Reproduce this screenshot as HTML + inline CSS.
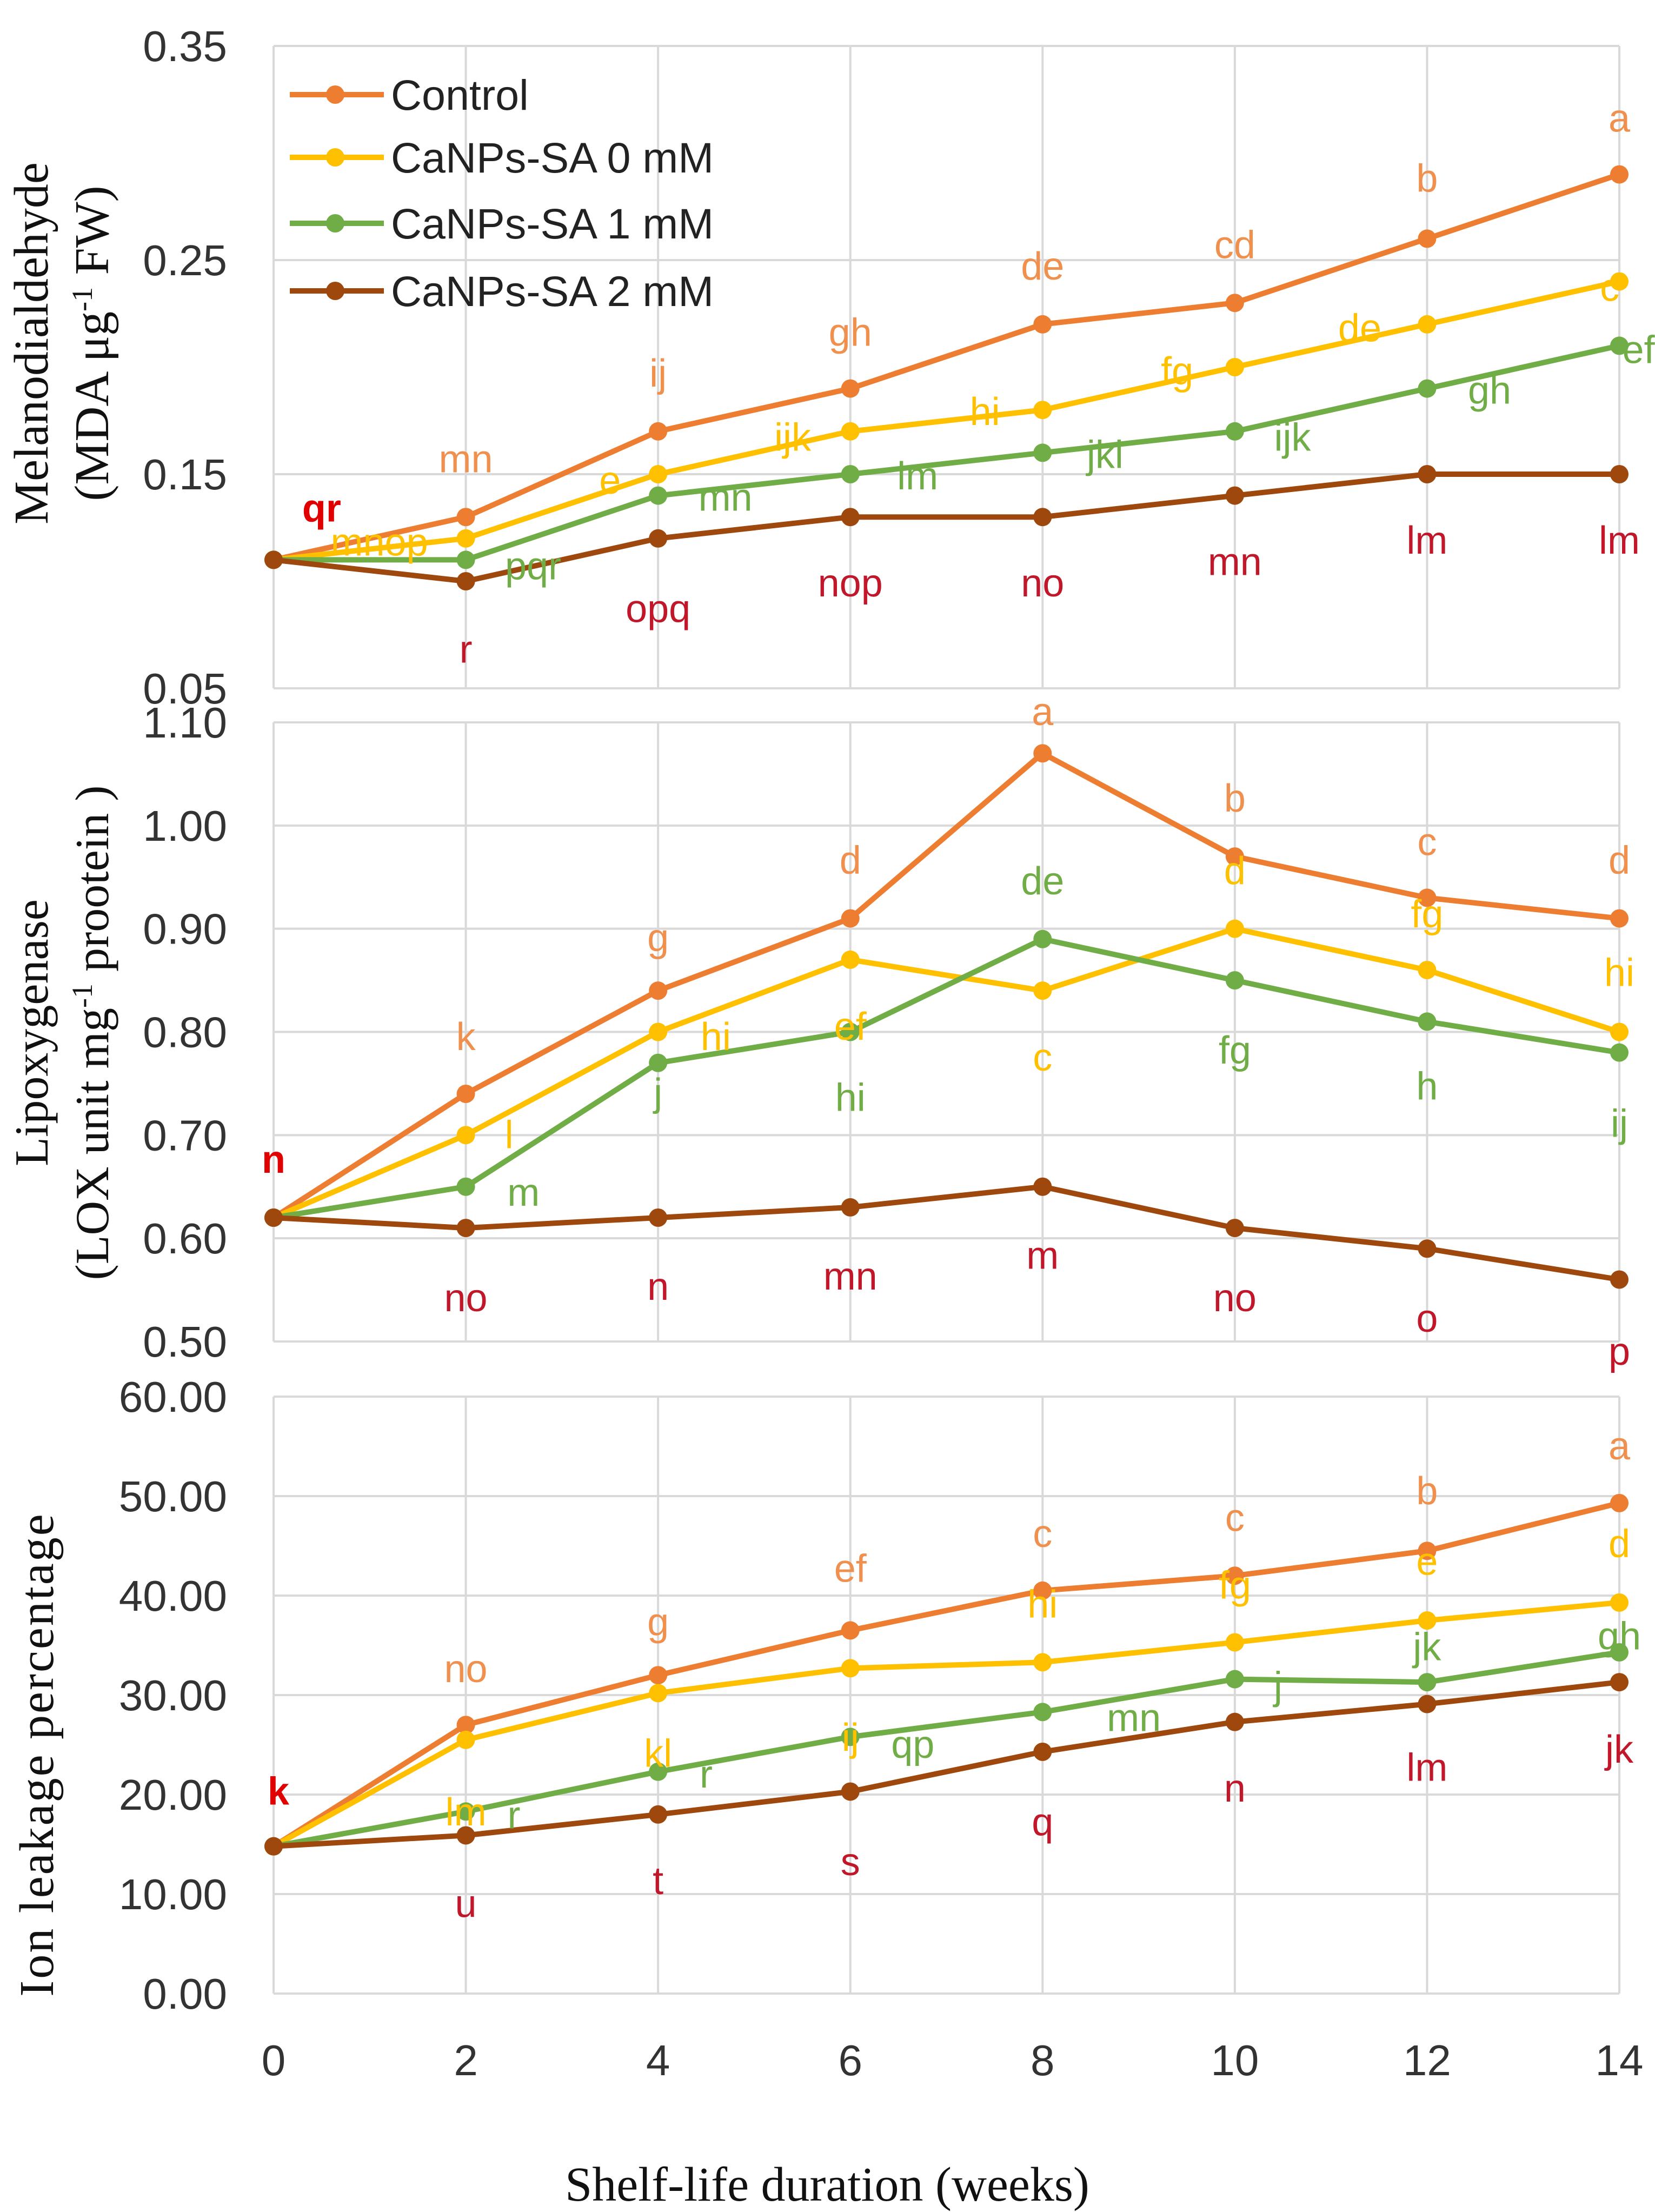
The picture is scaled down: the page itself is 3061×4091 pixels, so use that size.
<!DOCTYPE html>
<html><head><meta charset="utf-8"><style>
html,body{margin:0;padding:0;background:#fff;}
svg{display:block;}
</style></head><body>
<svg id="chart" xmlns="http://www.w3.org/2000/svg" width="3061" height="4091" viewBox="0 0 3061 4091">
<rect x="0" y="0" width="3061" height="4091" fill="#fff"/>
</svg>
<script>
const weeks = [0,2,4,6,8,10,12,14];
const seriesNames = ["Control","CaNPs-SA 0 mM","CaNPs-SA 1 mM","CaNPs-SA 2 mM"];
const mdaControl = [0.11,0.13,0.17,0.19,0.22,0.23,0.26,0.29];
const mda0 = [0.11,0.12,0.15,0.17,0.18,0.20,0.22,0.24];
const mda1 = [0.11,0.11,0.14,0.15,0.16,0.17,0.19,0.21];
const mda2 = [0.11,0.10,0.12,0.13,0.13,0.14,0.15,0.15];
const loxControl = [0.62,0.74,0.84,0.91,1.07,0.97,0.93,0.91];
const lox0 = [0.62,0.70,0.80,0.87,0.84,0.90,0.86,0.80];
const lox1 = [0.62,0.65,0.77,0.80,0.89,0.85,0.81,0.78];
const lox2 = [0.62,0.61,0.62,0.63,0.65,0.61,0.59,0.56];
const ionControl = [14.8,27.0,32.0,36.5,40.5,42.0,44.5,49.3];
const ion0 = [14.8,25.5,30.2,32.7,33.3,35.3,37.5,39.3];
const ion1 = [14.8,18.3,22.3,25.8,28.3,31.6,31.3,34.3];
const ion2 = [14.8,15.9,18.0,20.3,24.3,27.3,29.1,31.3];
const mdaTicks = ["0.35","0.25","0.15","0.05"];
const loxTicks = ["1.10","1.00","0.90","0.80","0.70","0.60","0.50"];
const ionTicks = ["60.00","50.00","40.00","30.00","20.00","10.00","0.00"];
// letter annotations: [week, value, text, seriesIndex(4 = bold red)]
const mdaLetters = [[2,0.157,"mn",0],[4,0.197,"ij",0],[6,0.216,"gh",0],[8,0.247,"de",0],[10,0.257,"cd",0],[12,0.288,"b",0],[14,0.316,"a",0],
[1.1,0.118,"mnop",1],[3.5,0.147,"e",1],[5.4,0.167,"ijk",1],[7.4,0.179,"hi",1],[9.4,0.198,"fg",1],[11.3,0.218,"de",1],[13.9,0.237,"c",1],
[2.7,0.107,"pqr",2],[4.7,0.139,"mn",2],[6.7,0.149,"lm",2],[8.65,0.159,"jkl",2],[10.6,0.167,"ijk",2],[12.65,0.189,"gh",2],[14.2,0.208,"ef",2],
[0.5,0.134,"qr",4],[2,0.068,"r",3],[4,0.087,"opq",3],[6,0.099,"nop",3],[8,0.099,"no",3],[10,0.109,"mn",3],[12,0.119,"lm",3],[14,0.119,"lm",3]];
const loxLetters = [[2,0.795,"k",0],[4,0.891,"g",0],[6,0.966,"d",0],[8,1.11,"a",0],[10,1.026,"b",0],[12,0.984,"c",0],[14,0.966,"d",0],
[2.45,0.70,"l",1],[4.6,0.795,"hi",1],[6,0.805,"ef",1],[8,0.775,"c",1],[10,0.956,"d",1],[12,0.914,"fg",1],[14,0.857,"hi",1],
[2.6,0.644,"m",2],[4,0.741,"j",2],[6,0.736,"hi",2],[8,0.946,"de",2],[10,0.782,"fg",2],[12,0.747,"h",2],[14,0.711,"ij",2],
[0,0.676,"n",4],[2,0.542,"no",3],[4,0.553,"n",3],[6,0.563,"mn",3],[8,0.583,"m",3],[10,0.542,"no",3],[12,0.522,"o",3],[14,0.49,"p",3]];
const ionLetters = [[2,32.6,"no",0],[4,37.3,"g",0],[6,42.7,"ef",0],[8,46.2,"c",0],[10,47.8,"c",0],[12,50.5,"b",0],[14,55,"a",0],
[2,18.2,"lm",1],[4,24.1,"kl",1],[6,25.7,"ij",1],[8,39.1,"hi",1],[10,41,"fg",1],[12,43.4,"e",1],[14,45.2,"d",1],
[2.5,17.9,"r",2],[4.5,22,"r",2],[6.65,25,"qp",2],[8.95,27.7,"mn",2],[10.45,30.9,"j",2],[12,34.8,"jk",2],[14,35.9,"gh",2],
[0.05,20.3,"k",4],[2,9,"u",3],[4,11.3,"t",3],[6,13.2,"s",3],[8,17.2,"q",3],[10,20.6,"n",3],[12,22.7,"lm",3],[14,24.5,"jk",3]];

const NS="http://www.w3.org/2000/svg";
const svg=document.getElementById("chart");
const lineColors=["#ED7D31","#FFC000","#70AD47","#9E480E"];
const letterColors=["#F0904F","#FFC000","#70AD47","#C0182A","#E00000"];
const X0=506, X1=2995;
function xs(w){return X0+(w-weeks[0])/(weeks[weeks.length-1]-weeks[0])*(X1-X0);}
function mk(tag,attrs,parent){const e=document.createElementNS(NS,tag);for(const k in attrs)e.setAttribute(k,attrs[k]);(parent||svg).appendChild(e);return e;}

function panel(name,top,bottom,vmax,vmin,ticks,series,letters,showLegend){
  const g=mk("g",{});
  
  
  const ys=v=>top+(vmax-v)/(vmax-vmin)*(bottom-top);
  ticks.forEach(t=>{
    const v=parseFloat(t), y=ys(v);
    const l=mk("line",{x1:X0,x2:X1,y1:y,y2:y,stroke:"#D9D9D9","stroke-width":4},g);
    
    
    const tx=mk("text",{x:420,y:y+28,"text-anchor":"end","font-family":"Liberation Sans, sans-serif","font-size":80,fill:"#333"},g);
    tx.textContent=t;
    
    
  });
  weeks.forEach(w=>{
    const l=mk("line",{x1:xs(w),x2:xs(w),y1:top,y2:bottom,stroke:"#D9D9D9","stroke-width":4},g);
    
    
  });
  series.forEach((vals,si)=>{
    const pts=vals.map((v,i)=>xs(weeks[i])+","+ys(v)).join(" ");
    const pl=mk("polyline",{points:pts,fill:"none",stroke:lineColors[si],"stroke-width":10,"stroke-linejoin":"round"},g);
    
    
    vals.forEach((v,i)=>{
      const c=mk("circle",{cx:xs(weeks[i]),cy:ys(v),r:17,fill:lineColors[si]},g);
      
      
    });
  });
  letters.forEach(L=>{
    const t=mk("text",{x:xs(L[0]),y:ys(L[1])+24,"text-anchor":"middle","font-family":"Liberation Sans, sans-serif","font-size":72,fill:letterColors[L[3]],"font-weight":L[3]===4?"bold":"normal"},g);
    t.textContent=L[2];
    
    
  });
  if(showLegend){
    const ly=[175,291,413,538];
    seriesNames.forEach((n,i)=>{
      const lg=mk("g",{},g);
      
      
      mk("line",{x1:536,x2:710,y1:ly[i],y2:ly[i],stroke:lineColors[i],"stroke-width":10},lg);
      mk("circle",{cx:620,cy:ly[i],r:17,fill:lineColors[i]},lg);
      const t=mk("text",{x:723,y:ly[i]+28,"font-family":"Liberation Sans, sans-serif","font-size":79,fill:"#222"},lg);
      t.textContent=n;
    });
  }
}
panel("mda",85,1273,0.35,0.05,mdaTicks,[mdaControl,mda0,mda1,mda2],mdaLetters,true);
panel("lox",1336,2481,1.10,0.50,loxTicks,[loxControl,lox0,lox1,lox2],loxLetters,false);
panel("ion",2583,3687,60,0,ionTicks,[ionControl,ion0,ion1,ion2],ionLetters,false);

weeks.forEach(w=>{
  const t=mk("text",{x:xs(w),y:3838,"text-anchor":"middle","font-family":"Liberation Sans, sans-serif","font-size":80,fill:"#333"});
  t.textContent=String(w);
  
  
});
const xt=mk("text",{x:1530,y:4070,"text-anchor":"middle","font-family":"Liberation Serif, serif","font-size":90,fill:"#111"});
xt.textContent="Shelf-life duration (weeks)";



function ytitle(name,cx,cy,lines,fs,ls){
  const g=mk("g",{transform:"translate("+cx+","+cy+") rotate(-90)"});
  
  
  lines.forEach((ln,i)=>{
    const t=mk("text",{x:0,y:i*112,"text-anchor":"middle","font-family":"Liberation Serif, serif","font-size":fs,"letter-spacing":ls,fill:"#111"},g);
    t.innerHTML=ln;
  });
}
ytitle("mda-y-axis-title",88,635,["Melanodialdehyde","(MDA μg<tspan font-size='54' dy='-30'>-1</tspan><tspan dy='30'> FW)</tspan>"],90,0);
ytitle("lox-y-axis-title",88,1910,["Lipoxygenase","(LOX unit mg<tspan font-size='54' dy='-30'>-1</tspan><tspan dy='30'> prootein )</tspan>"],88,0);
ytitle("ion-y-axis-title",98,3245,["Ion leakage  percentage"],90,3);
</script>
</body></html>
